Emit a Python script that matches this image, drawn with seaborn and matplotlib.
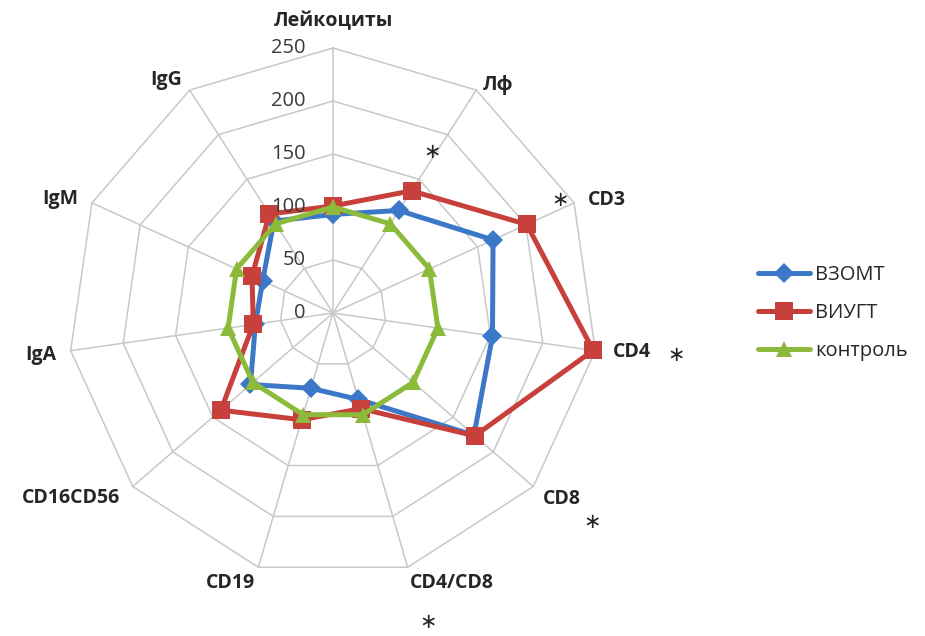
import numpy as np
import pandas as pd
import matplotlib
matplotlib.use("Agg")
import matplotlib.pyplot as plt
import seaborn as sns

# данные (в % от контроля)
categories = ["Лейкоциты", "Лф", "CD3", "CD4", "CD8", "CD4/CD8",
              "CD19", "CD16CD56", "IgA", "IgM", "IgG"]
vzomt = [93, 115, 166, 152, 176, 85, 74, 103, 74, 73, 103]
viugt = [101, 137, 201, 248, 177, 94, 105, 140, 76, 84, 111]
control = [100, 100, 100, 100, 100, 100, 100, 100, 100, 100, 100]
series_names = ["ВЗОМТ", "ВИУГТ", "контроль"]
r_ticks = [0, 50, 100, 150, 200, 250]
starred = ["Лф", "CD3", "CD4", "CD8", "CD4/CD8"]

sns.set_style("white")
plt.rcParams["font.family"] = ["Open Sans", "DejaVu Sans"]

colors = ["#3C78C8", "#C8403C", "#8CBB3C"]
markers = ["D", "s", "^"]
msizes = [10, 13, 12]

n = len(categories)
angles = np.linspace(0, 2 * np.pi, n, endpoint=False)
theta_closed = np.append(angles, angles[0])

frames = []
for name, vals in zip(series_names, [vzomt, viugt, control]):
    frames.append(pd.DataFrame({"theta": theta_closed,
                                "value": vals + vals[:1],
                                "series": name}))
df = pd.concat(frames, ignore_index=True)

fig = plt.figure(figsize=(9.25, 6.36), dpi=100)
ax = fig.add_axes([68 / 925, 58 / 636, 530 / 925, 530 / 636], projection="polar")
ax.set_theta_zero_location("N")
ax.set_theta_direction(-1)

# многоугольная сетка
for r in r_ticks[1:]:
    ax.plot(theta_closed, [r] * (n + 1), color="#c8c8c8", lw=1.1, zorder=1, clip_on=False)
for a in angles:
    ax.plot([a, a], [0, r_ticks[-1]], color="#c8c8c8", lw=1.1, zorder=1, clip_on=False)

for name, c, m, ms in zip(series_names, colors, markers, msizes):
    sns.lineplot(data=df[df["series"] == name], x="theta", y="value", ax=ax,
                 sort=False, estimator=None, color=c, marker=m, markersize=ms,
                 markeredgewidth=0, linewidth=3.6, label=name, clip_on=False, zorder=3)

ax.set_ylim(0, 250)
ax.grid(False)
ax.set_xticks([])
ax.set_yticks([])
ax.spines["polar"].set_visible(False)
ax.set_xlabel("")
ax.set_ylabel("")

# подписи шкалы
for v in r_ticks:
    ax.annotate(str(v), xy=(0, v), xytext=(-19.5, 0), textcoords="offset points",
                ha="right", va="center", fontsize=14.5, color="#3a3a3a")

# подписи осей: (ha, смещение x, смещение y) в пикселях
label_layout = [("center", 0, -27), ("left", 7, -5), ("left", 14, -3), ("left", 18, 1),
                ("left", 10, 12), ("left", 2, 16), ("right", -3, 16), ("right", -13, 11),
                ("right", -14, 4), ("right", -14, -4), ("right", -8, -10)]
for a, cat, (ha, dx, dy) in zip(angles, categories, label_layout):
    ax.annotate(cat, xy=(a, 250), xytext=(dx * 0.72, -dy * 0.72), textcoords="offset points",
                ha=ha, va="center", fontsize=14, fontweight="bold", color="#262626")

# звёздочки значимости
star_layout = {"Лф": (180, -4, 0), "CD3": (250, -14, -3), "CD4": (250, 81, 4),
               "CD8": (250, 59, 35), "CD4/CD8": (250, 20, 55)}
for cat in starred:
    r, dx, dy = star_layout[cat]
    a = angles[categories.index(cat)]
    ax.annotate("∗", xy=(a, r), xytext=(dx * 0.72, -dy * 0.72), textcoords="offset points",
                ha="center", va="center", fontsize=15,
                family="DejaVu Sans", color="#262626")

ax.legend(loc="center left", bbox_to_anchor=(758 / 925, 1 - 313 / 636),
          bbox_transform=fig.transFigure, frameon=False, fontsize=14.5,
          handlelength=2.6, handletextpad=0.25, labelspacing=0.9,
          borderpad=0, borderaxespad=0)

fig.savefig("out.png", dpi=100)
